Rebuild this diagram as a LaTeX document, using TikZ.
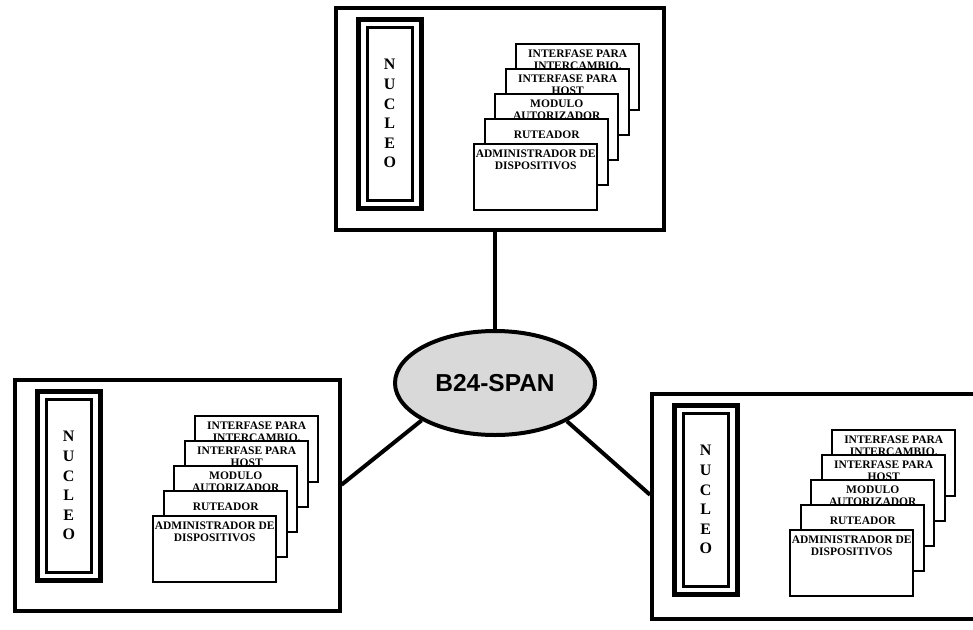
\documentclass[tikz,border=0pt]{standalone}
\usepackage{fontspec}
\setmainfont{Liberation Serif}
\newfontfamily\arialfont{Liberation Sans}
\usetikzlibrary{shapes.geometric}
\newcommand\stk[2]{\parbox[t][62pt][t]{121pt}{\centering\rule{0pt}{#1}#2}}
\tikzset{
  outerbox/.style={draw, line width=3.5pt, anchor=north west, inner sep=0pt},
  nucout/.style={draw, line width=4.5pt, anchor=north west, minimum width=63pt, minimum height=189pt, inner sep=0pt},
  nucin/.style={draw, line width=2.5pt, minimum width=45pt, minimum height=173pt, inner sep=0pt,
    font=\fontsize{16}{19.6}\selectfont\bfseries, align=center},
  stackbox/.style={draw, fill=white, line width=2.4pt, anchor=north west, inner xsep=1pt, inner ysep=2pt,
    font=\fontsize{11.5}{12}\selectfont\bfseries},
  link/.style={line width=4pt},
  cloud/.style={ellipse, draw, line width=4pt, fill=black!15, minimum width=200pt, minimum height=104pt,
    inner sep=0pt, font=\arialfont\bfseries\fontsize{24.5}{24}\selectfont}
}
\newcommand\modulo[5]{%
  \begin{scope}[shift={(#2,#3)}]
    \node[outerbox, minimum width=#4pt, minimum height=#5pt] (#1) at (0,0) {};
    \node[nucout] (#1-nuc) at (22,11) {};
    \node[nucin] (#1-nucin) at (#1-nuc.center) {N\\U\\C\\L\\E\\O};
    \node[stackbox] (#1-s1) at (181,37) {\stk{11pt}{INTERFASE PARA\\INTERCAMBIO.}};
    \node[stackbox] (#1-s2) at (171,62) {\stk{11pt}{INTERFASE PARA\\HOST}};
    \node[stackbox] (#1-s3) at (160,87) {\stk{11pt}{MODULO\\AUTORIZADOR}};
    \node[stackbox] (#1-s4) at (150,112) {\stk{17pt}{RUTEADOR}};
    \node[stackbox] (#1-s5) at (139,137) {\stk{11pt}{ADMINISTRADOR DE\\DISPOSITIVOS}};
  \end{scope}}
\begin{document}
\begin{tikzpicture}[x=1pt, y=-1pt]
  \useasboundingbox (0,0) rectangle (973,629);
  \modulo{T}{334}{6}{328}{222}
  \modulo{L}{13}{378}{325}{231}
  \modulo{R}{650}{392}{326}{225}
  \node[cloud] (E) at (495,383) {B24-SPAN};
  \draw[link] (E.north) -- (E.north |- T.south);
  \draw[link] (E.207) -- ([yshift=10.5pt]L.east);
  \draw[link] (E.-28) -- ([yshift=11.5pt]R.west);
\end{tikzpicture}
\end{document}
